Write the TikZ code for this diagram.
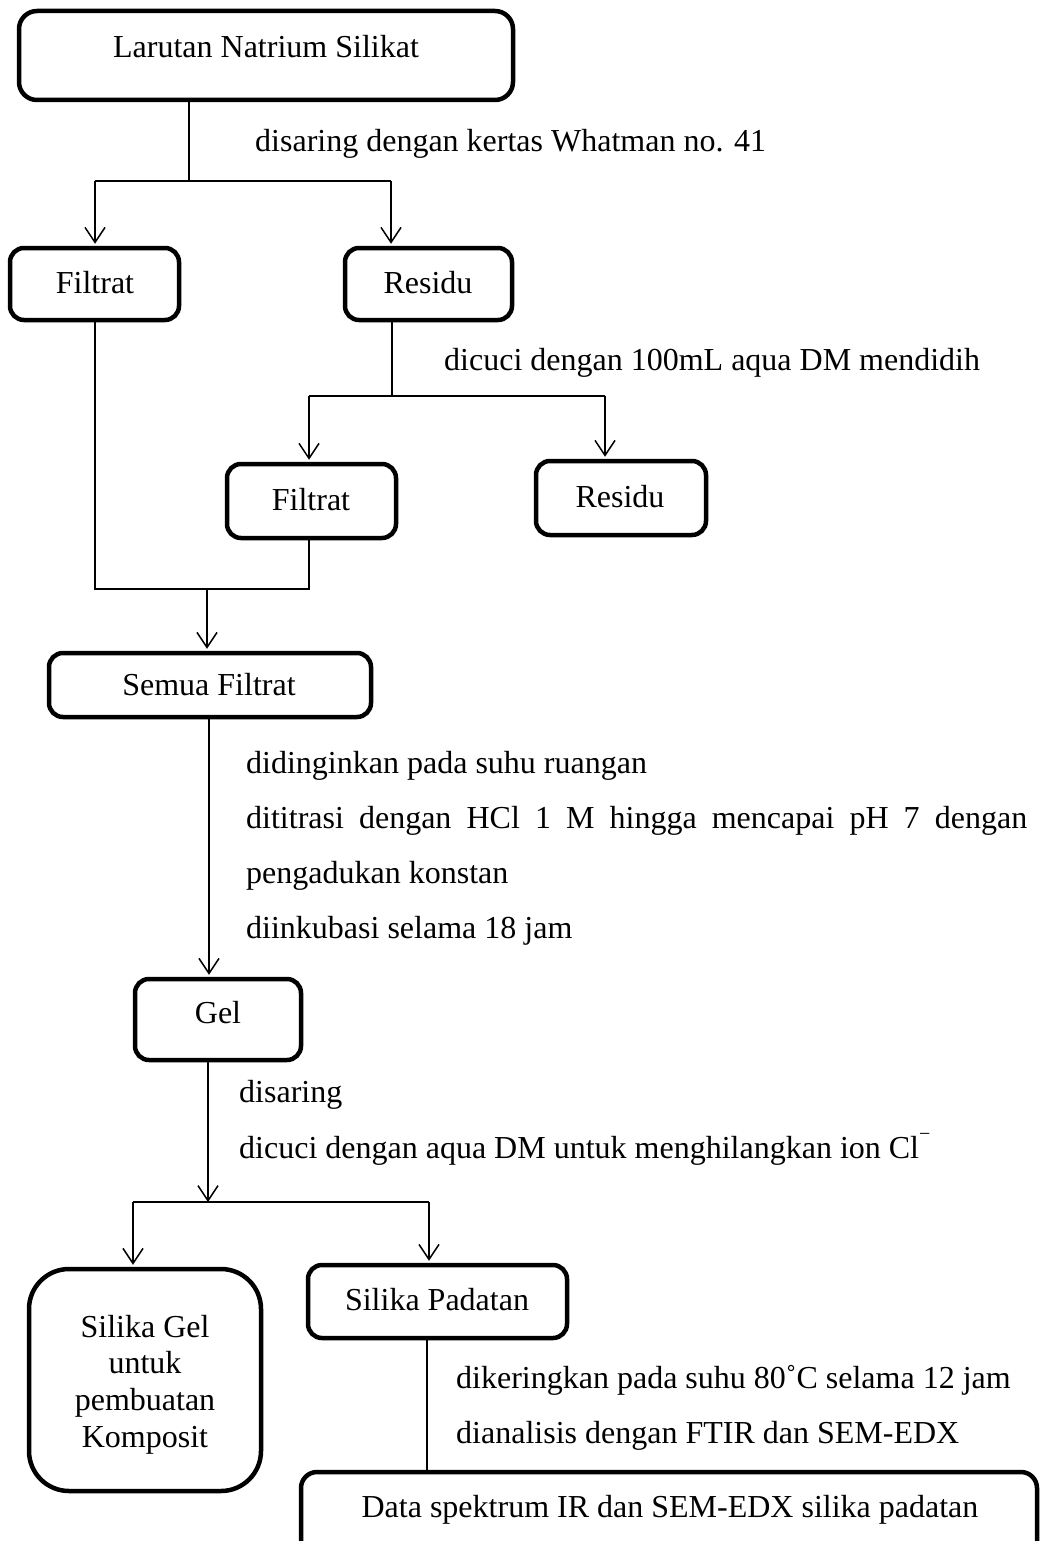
\documentclass[tikz,border=0pt]{standalone}
\usepackage{fontspec}
\setmainfont{Liberation Serif}
\usetikzlibrary{arrows.meta,calc}
\begin{document}
\begin{tikzpicture}[x=1pt,y=-1pt,
 box/.style={draw, line width=4.5pt, rounded corners=14pt, inner sep=0pt},
 conn/.style={line width=1.5pt},
 arr/.style={conn, -{Straight Barb[length=15pt,width=20pt,line width=1.5pt]}, shorten >=2pt},
 lbl/.style={anchor=base west, inner sep=0pt, font=\fontsize{32}{38}\selectfont},
 ctr/.style={anchor=base, inner sep=0pt, font=\fontsize{32}{38}\selectfont}]
\useasboundingbox (0,0) rectangle (1042,1541);

% boxes
\node[box, minimum width=494pt, minimum height=89pt, rounded corners=18pt] (top) at (266,55.5) {};
\node[box, minimum width=169pt, minimum height=72pt] (filt1) at (94.5,284) {};
\node[box, minimum width=167pt, minimum height=72pt] (res1) at (428.5,284) {};
\node[box, minimum width=169pt, minimum height=74pt] (filt2) at (311.5,501) {};
\node[box, minimum width=170pt, minimum height=74pt] (res2) at (621,498) {};
\node[box, minimum width=322pt, minimum height=64pt] (semua) at (210,685) {};
\node[box, minimum width=166pt, minimum height=81pt] (gel) at (218,1019.5) {};
\node[box, minimum width=232pt, minimum height=222pt, rounded corners=40pt] (silgel) at (145,1380) {};
\node[box, minimum width=259pt, minimum height=73pt] (padatan) at (437.5,1301.5) {};
\node[box, minimum width=736pt, minimum height=106pt, rounded corners=16pt] (data) at (669,1525) {};

% box texts
\node[ctr] (ttop) at (266,58) {Larutan Natrium Silikat};
\node[ctr] (tfilt1) at (95,293) {Filtrat};
\node[ctr] (tres1) at (428,293) {Residu};
\node[ctr] (tfilt2) at (311,510) {Filtrat};
\node[ctr] (tres2) at (620,507) {Residu};
\node[ctr] (tsemua) at (209,695) {Semua Filtrat};
\node[ctr] (tgel) at (218,1023) {Gel};
\node[ctr] (sg1) at (145,1337) {Silika Gel};
\node[ctr] (sg2) at (145,1373) {untuk};
\node[ctr] (sg3) at (145,1410) {pembuatan};
\node[ctr] (sg4) at (145,1447) {Komposit};
\node[ctr] (tpad) at (437,1310) {Silika Padatan};
\node[ctr] (tdata) at (670,1517) {Data spektrum IR dan SEM-EDX silika padatan};

% step labels
\node[lbl] (l1) at (255,152) {disaring dengan kertas Whatman no. 41};
\node[lbl] (l2) at (444,370) {dicuci dengan 100mL aqua DM mendidih};
\node[lbl] (l3) at (246,773) {didinginkan pada suhu ruangan};
\node[lbl] (l4) at (246,828) {\makebox[781pt][s]{dititrasi dengan HCl 1 M hingga mencapai pH 7 dengan}};
\node[lbl] (l5) at (246,883) {pengadukan konstan};
\node[lbl] (l6) at (246,938) {diinkubasi selama 18 jam};
\node[lbl] (l7) at (239,1102) {disaring};
\node[lbl] (l8) at (239,1158) {dicuci dengan aqua DM untuk menghilangkan ion Cl\raisebox{0.55em}{\fontsize{20}{20}\selectfont −}};
\node[lbl] (l9) at (456,1388) {dikeringkan pada suhu 80˚C selama 12 jam};
\node[lbl] (l10) at (456,1443) {dianalisis dengan FTIR dan SEM-EDX};

% connectors
\coordinate (j1) at (189,181);
\coordinate (j1l) at (95,181);
\coordinate (j1r) at (391,181);
\draw[conn] (top.south -| j1) -- (j1);
\draw[conn] (j1l) -- (j1r);
\draw[arr] (j1l) -- (j1l |- filt1.north);
\draw[arr] (j1r) -- (j1r |- res1.north);

\coordinate (j2) at (392,396);
\coordinate (j2l) at (309,396);
\coordinate (j2r) at (605,396);
\draw[conn] (res1.south -| j2) -- (j2);
\draw[conn] (j2l) -- (j2r);
\draw[arr] (j2l) -- (j2l |- filt2.north);
\draw[arr] (j2r) -- (j2r |- res2.north);

\coordinate (j3l) at (95,589);
\coordinate (j3r) at (309,589);
\coordinate (j3) at (207,589);
\draw[conn] (filt1.south -| j3l) -- (j3l) -- (j3r) -- (filt2.south -| j3r);
\draw[arr] (j3) -- (j3 |- semua.north);

\coordinate (c4) at (209,720);
\draw[arr] (semua.south -| c4) -- (gel.north -| c4);

\coordinate (j5) at (208,1202);
\coordinate (j5l) at (133,1202);
\coordinate (j5r) at (429,1202);
\draw[arr, shorten >=0pt] (gel.south -| j5) -- (j5);
\draw[conn] (j5l) -- (j5r);
\draw[arr] (j5l) -- (j5l |- silgel.north);
\draw[arr] (j5r) -- (j5r |- padatan.north);

\coordinate (c6) at (427,1340);
\draw[conn] (padatan.south -| c6) -- (data.north -| c6);
\end{tikzpicture}
\end{document}
